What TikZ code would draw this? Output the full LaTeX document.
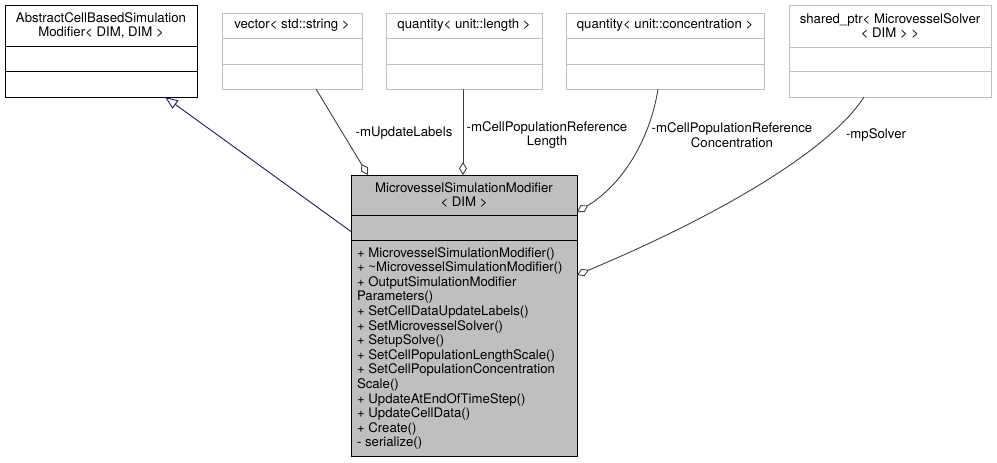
\documentclass[tikz,border=0pt]{standalone}
\usepackage{fontspec}
\setmainfont{TeX Gyre Heros}
\usetikzlibrary{arrows.meta,calc}
\definecolor{boxgrey}{HTML}{BFBFBF}
\definecolor{edgegrey}{HTML}{404040}
\definecolor{inhblue}{HTML}{191970}
\begin{document}
\begin{tikzpicture}[x=1pt,y=-1pt,
  every node/.style={font=\fontsize{13.2}{14.6}\selectfont, inner sep=0pt, outer sep=0pt},
  cellbox/.style={draw=black, line width=1pt, anchor=north west, align=center},
  lightbox/.style={draw=boxgrey, line width=1pt, fill=white, anchor=north west, align=center},
  mainbox/.style={draw=black, fill=boxgrey, line width=1pt, anchor=north west, align=center},
  uses/.style={draw=edgegrey, line width=0.9pt, -{Diamond[open, length=13pt, width=8pt]}},
  inherit/.style={draw=inhblue, line width=0.9pt, -{Triangle[open, length=13pt, width=10pt]}},
  edgelabel/.style={align=center, text=black}]
\useasboundingbox (0,0) rectangle (997,463);

% AbstractCellBasedSimulationModifier
\node[cellbox, minimum width=192pt, minimum height=41pt] (a1) at (5,5) {AbstractCellBasedSimulation\\Modifier< DIM, DIM >};
\node[cellbox, minimum width=192pt, minimum height=25pt] (a2) at (a1.south west) {};
\node[cellbox, minimum width=192pt, minimum height=26pt] (a3) at (a2.south west) {};

% vector
\node[lightbox, minimum width=140pt, minimum height=25pt] (v1) at (222,13) {vector< std::string >};
\node[lightbox, minimum width=140pt, minimum height=26pt] (v2) at (v1.south west) {};
\node[lightbox, minimum width=140pt, minimum height=25pt] (v3) at (v2.south west) {};

% quantity length
\node[lightbox, minimum width=156pt, minimum height=25pt] (l1) at (386,13) {quantity< unit::length >};
\node[lightbox, minimum width=156pt, minimum height=26pt] (l2) at (l1.south west) {};
\node[lightbox, minimum width=156pt, minimum height=25pt] (l3) at (l2.south west) {};

% quantity concentration
\node[lightbox, minimum width=198pt, minimum height=25pt] (c1) at (566,13) {quantity< unit::concentration >};
\node[lightbox, minimum width=198pt, minimum height=26pt] (c2) at (c1.south west) {};
\node[lightbox, minimum width=198pt, minimum height=25pt] (c3) at (c2.south west) {};

% shared_ptr
\node[lightbox, minimum width=202pt, minimum height=42pt] (s1) at (789,5) {shared\_ptr< MicrovesselSolver\\< DIM > >};
\node[lightbox, minimum width=202pt, minimum height=24pt] (s2) at (s1.south west) {};
\node[lightbox, minimum width=202pt, minimum height=26pt] (s3) at (s2.south west) {};

% main class
\node[mainbox, minimum width=226pt, minimum height=40pt] (m1) at (351,175) {MicrovesselSimulationModifier\\< DIM >};
\node[mainbox, minimum width=226pt, minimum height=25pt] (m2) at (m1.south west) {};
\node[mainbox, minimum width=226pt, minimum height=216pt] (m3) at (m2.south west) {};
\node[anchor=north west, align=left] (m3t) at (357,246.8) {\strut + MicrovesselSimulationModifier()\\
+ \textasciitilde MicrovesselSimulationModifier()\\
+ OutputSimulationModifier\\
Parameters()\\
+ SetCellDataUpdateLabels()\\
+ SetMicrovesselSolver()\\
+ SetupSolve()\\
+ SetCellPopulationLengthScale()\\
+ SetCellPopulationConcentration\\
Scale()\\
+ UpdateAtEndOfTimeStep()\\
+ UpdateCellData()\\
+ Create()\\
- serialize()};

% connectors
\draw[inherit] ($(m2.west)+(0,4)$) -- ($(a3.south west)+(160,0)$);
\draw[uses] ($(v3.south west)+(94,0)$) -- ($(m1.north west)+(17,0)$);
\draw[uses] ($(l3.south west)+(77,0)$) -- ($(m1.north west)+(112,0)$);
\draw[uses] ($(c3.south west)+(92,0)$) .. controls (650,140) and (622,185) .. ($(m1.south east)+(0,-3)$);
\draw[uses] ($(s3.south west)+(75,0)$) .. controls (830,150) and (720,215) .. ($(m3.north east)+(0,35)$);

% labels
\node[edgelabel] (lupd) at (404,133) {-mUpdateLabels};
\node[edgelabel] (llen) at (547,135) {-mCellPopulationReference\\Length};
\node[edgelabel] (lconc) at (732,135) {-mCellPopulationReference\\Concentration};
\node[edgelabel] (lsol) at (876,135) {-mpSolver};
\end{tikzpicture}
\end{document}
